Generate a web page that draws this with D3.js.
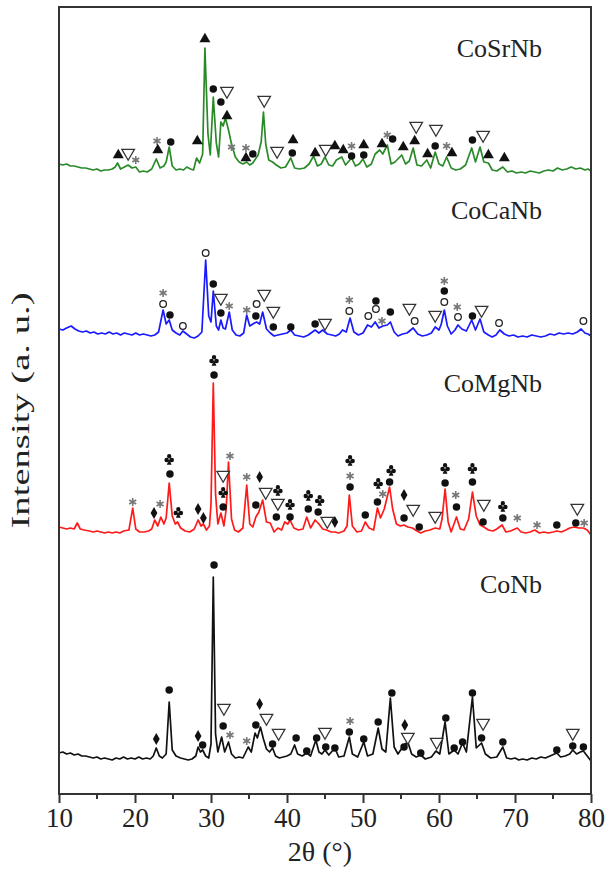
<!DOCTYPE html>
<html>
<head>
<meta charset="utf-8">
<script src="https://cdn.jsdelivr.net/npm/d3@7"></script>
<style>
  body { margin: 0; background: #fff; }
  svg text { font-family: "Liberation Serif", "Times New Roman", serif; fill: #222; }
</style>
</head>
<body>
<div id="chart"></div>
<script>

// stacked patterns: [2theta, intensity (a.u., already offset)]
const coNb = [[10,41],[10.5,42],[11,40],[11.5,41],[12,39],[12.5,40],[13,38],[13.5,38],[14,37],[14.5,36],[15,37],[15.5,35],[16,36],[16.5,35],[17,34],[17.5,36],[18,35],[18.5,37],[19,35],[19.5,36],[20,35],[20.5,37],[21,35],[21.5,36],[22,35],[22.4,38],[22.8,46],[23.2,38],[23.6,36],[24.1,40],[24.5,92],[24.9,44],[25.4,38],[26,36],[26.5,35],[27,34],[27.5,35],[28,38],[28.3,47],[28.6,42],[28.9,44],[29.3,38],[29.7,36],[30.0,50],[30.3,217],[30.6,60],[30.9,42],[31.4,57],[31.8,42],[32.3,52],[32.7,40],[33.2,36],[33.7,37],[34.2,36],[34.9,47],[35.3,42],[35.8,61],[36.1,56],[36.5,67],[36.9,55],[37.3,45],[37.7,42],[38.1,46],[38.5,38],[39,36],[39.5,37],[40,38],[40.5,40],[41,49],[41.4,40],[42,38],[42.6,41],[43.1,38],[43.8,54],[44.2,42],[44.6,40],[45,44],[45.5,39],[46.3,46],[46.8,37],[47.5,38],[48.2,57],[48.6,40],[49.3,37],[50.1,52],[50.6,38],[51.3,40],[52,66],[52.5,45],[53,42],[53.6,96],[54.1,47],[54.6,40],[55.4,49],[55.9,52],[56.4,40],[57,37],[57.6,39],[58.2,35],[59,37],[59.6,43],[60.1,40],[60.8,72],[61.3,40],[62,44],[62.5,40],[63.1,51],[63.6,42],[64.4,97],[64.9,46],[65.6,51],[66.1,40],[66.8,36],[67.6,37],[68.4,47],[68.9,36],[69.5,35],[70,36],[70.5,34],[71,35],[71.6,34],[72.2,36],[72.8,35],[73.4,37],[74,36],[74.6,38],[75.5,41],[76,37],[76.6,38],[77.2,40],[77.6,44],[78.1,40],[78.6,42],[79,43],[79.5,38],[80,33]];

const coMgNb = [[10,267],[10.5,266],[11,265],[11.5,266],[12,265],[12.4,271],[12.8,265],[13.3,264],[14,263],[14.5,262],[15,263],[15.5,262],[16,261],[16.5,262],[17,261],[17.5,262],[18,261],[18.5,263],[19.2,264],[19.7,286],[20.1,265],[20.6,262],[21.2,262],[21.8,263],[22.2,265],[22.6,274],[23,268],[23.4,277],[23.8,270],[24.1,276],[24.5,311],[24.9,278],[25.3,270],[25.6,272],[26,266],[26.6,263],[27.2,262],[27.8,265],[28.3,274],[28.7,268],[29,270],[29.4,264],[29.8,268],[30.0,290],[30.3,411],[30.6,300],[30.9,270],[31.3,281],[31.7,268],[32.0,285],[32.3,332],[32.7,275],[33.1,264],[33.6,262],[34.2,266],[34.7,309],[35.1,270],[35.5,267],[35.9,277],[36.3,282],[36.8,294],[37.3,272],[37.8,271],[38.3,262],[38.8,266],[39.3,264],[39.7,272],[40.1,270],[40.4,274],[40.9,266],[41.5,264],[42.1,265],[42.6,277],[43.1,266],[43.7,274],[44.2,270],[44.7,265],[45.2,264],[45.8,262],[46.3,262],[46.8,261],[47.5,263],[47.9,268],[48.2,299],[48.6,268],[49.2,262],[49.8,263],[50.3,272],[50.8,266],[51.4,264],[51.9,286],[52.3,276],[52.8,285],[53.5,307],[53.9,285],[54.4,270],[54.9,268],[55.4,269],[55.9,267],[56.5,266],[57.1,263],[57.6,261],[58.2,263],[58.8,264],[59.5,266],[60.1,265],[60.4,275],[60.8,305],[61.2,272],[61.6,262],[62.3,277],[62.8,265],[63.3,264],[63.9,275],[64.4,302],[64.9,278],[65.4,269],[65.9,267],[66.5,264],[67.1,263],[67.6,265],[68.3,269],[68.8,262],[69.4,263],[70.3,266],[70.8,262],[71.4,261],[72,262],[72.6,264],[73.2,261],[73.8,262],[74.4,261],[75,262],[75.5,263],[76.1,262],[76.7,264],[77.2,266],[77.8,267],[78.4,266],[79,266],[79.5,264],[80,259]];

const coCaNb = [[10,465],[10.5,464],[11,466],[11.6,468],[12.1,465],[12.6,463],[13.1,462],[13.6,463],[14.1,461],[14.6,462],[15.1,460],[15.6,461],[16.1,460],[16.6,462],[17.1,460],[17.6,461],[18.1,459],[18.6,461],[19.1,460],[19.6,459],[20.1,461],[20.6,459],[21.1,460],[21.6,459],[22.1,458],[22.6,459],[23.1,462],[23.7,484],[24.1,470],[24.5,474],[24.9,464],[25.4,461],[25.9,459],[26.3,463],[26.8,460],[27.3,457],[27.8,456],[28.3,458],[28.8,462],[29.3,534],[29.7,478],[30.0,472],[30.3,503],[30.7,468],[31.0,464],[31.3,474],[31.6,466],[31.9,465],[32.4,482],[32.8,464],[33.3,459],[33.8,458],[34.3,461],[34.7,479],[35.1,468],[35.5,470],[36.0,472],[36.4,470],[36.8,482],[37.3,465],[37.8,461],[38.3,458],[38.8,459],[39.4,460],[40.0,461],[40.5,464],[41.0,459],[41.6,458],[42.2,457],[42.8,459],[43.7,464],[44.2,461],[44.7,464],[45.3,460],[45.9,459],[46.4,458],[46.9,460],[47.3,464],[47.8,462],[48.3,476],[48.8,462],[49.4,459],[50.0,461],[50.6,469],[51.1,467],[51.6,472],[52.1,466],[52.6,468],[53.2,469],[53.6,472],[54.1,462],[54.6,458],[55.2,460],[55.8,461],[56.6,466],[57.2,460],[57.8,458],[58.4,459],[59.0,461],[59.5,467],[60.0,464],[60.3,470],[60.7,484],[61.1,468],[61.6,460],[62.1,464],[62.5,469],[63.0,465],[63.6,463],[64.3,474],[64.8,464],[65.4,475],[65.9,462],[66.5,459],[67.0,457],[67.5,459],[68.0,464],[68.6,460],[69.2,458],[69.8,459],[70.4,457],[71.0,458],[71.6,457],[72.2,459],[72.8,458],[73.4,457],[74.0,458],[74.6,460],[75.2,459],[75.8,461],[76.4,460],[77.0,461],[77.6,460],[78.2,462],[78.7,465],[79.2,461],[79.6,460],[80,458]];

const coSrNb = [[10,630],[10.5,629],[11,630],[11.5,628],[12,628],[12.5,627],[13,626],[13.5,626],[14,625],[14.5,624],[15,625],[15.5,623],[16,624],[16.5,624],[17,625],[17.4,627],[17.7,631],[18.1,625],[18.6,627],[19.1,629],[19.6,626],[20.1,627],[20.6,622],[21.1,623],[21.6,622],[22.2,625],[22.8,635],[23.3,626],[23.8,628],[24.1,632],[24.5,647],[24.9,628],[25.4,624],[25.9,625],[26.4,624],[26.8,627],[27.3,625],[27.7,624],[28.1,636],[28.5,631],[28.9,640],[29.2,746],[29.6,660],[29.9,639],[30.3,697],[30.7,651],[31.0,637],[31.3,672],[31.6,668],[31.9,676],[32.3,664],[32.7,650],[33.2,637],[33.7,632],[34.2,630],[34.7,632],[35.1,629],[35.5,631],[36.2,639],[36.6,652],[36.9,682],[37.2,650],[37.6,634],[38.1,632],[38.6,629],[39.2,626],[39.8,627],[40.5,636],[41.0,626],[41.6,625],[42.3,626],[42.9,630],[43.5,638],[44.0,628],[44.5,630],[45.0,637],[45.5,629],[46.0,628],[46.5,634],[47.2,637],[47.7,629],[48.5,636],[49.0,628],[49.5,630],[50.0,635],[50.5,627],[51.1,630],[51.6,640],[52.2,644],[52.6,640],[53.2,649],[53.7,630],[54.2,632],[55.1,639],[55.6,630],[56.1,633],[56.6,646],[57.1,629],[57.7,628],[58.4,634],[58.9,626],[59.5,642],[60.0,630],[60.5,628],[61.0,637],[61.6,626],[62.2,624],[62.8,625],[63.5,629],[64.3,646],[64.8,632],[65.4,647],[65.9,632],[66.5,631],[67.0,624],[67.6,623],[68.4,627],[69.0,622],[69.6,623],[70.2,621],[70.8,622],[71.4,621],[72.0,623],[72.6,622],[73.2,621],[73.8,623],[74.4,624],[75.0,623],[75.6,626],[76.2,624],[76.8,625],[77.4,627],[78.0,625],[78.6,626],[79.2,624],[79.6,625],[80,623]];

// phase markers: [2theta, intensity, type]
// dot = filled circle, ring = open circle, tri = open down triangle,
// up = filled triangle, dia = diamond, club, star = grey asterisk
const coNbMarks = [[22.8,55,"dia"],[24.5,104,"dot"],[28.3,58,"dia"],[28.9,49,"dot"],[30.4,229,"dot"],[31.7,86,"tri"],[31.6,68,"dot"],[32.5,59,"star"],[34.7,53,"star"],[35.9,69,"dot"],[36.4,90,"dia"],[37.3,76,"tri"],[38.9,61,"tri"],[38.1,50,"dot"],[41.2,56,"dot"],[42.6,43,"dot"],[43.9,56,"dot"],[45,62,"tri"],[45.1,47,"dot"],[46.3,46,"dot"],[48.2,62,"dot"],[48.3,73,"star"],[50.1,55,"dot"],[52,72,"dot"],[53.8,101,"dot"],[55.5,69,"dia"],[55.9,57,"tri"],[55.4,47,"dot"],[57.6,41,"dot"],[59.7,52,"tri"],[60.9,76,"dot"],[62,46,"dot"],[63.1,52,"dot"],[64.4,101,"dot"],[65.8,71,"tri"],[65.6,56,"dot"],[68.4,52,"dot"],[75.5,44,"dot"],[77.6,61,"tri"],[77.6,48,"dot"],[79,47,"dot"]];

const coMgNbMarks = [[19.7,292,"star"],[22.5,281,"dia"],[23.3,290,"star"],[24.5,335,"club"],[24.6,320,"dot"],[25.7,282,"club"],[28.3,285,"dia"],[29,276,"dia"],[30.4,434,"club"],[30.4,419,"dot"],[31.6,319,"tri"],[31.6,302,"club"],[31.6,287,"dot"],[32.5,338,"star"],[34.7,317,"star"],[36.4,317,"dia"],[35.9,289,"dot"],[37.2,302,"tri"],[38.8,304,"club"],[38.8,291,"tri"],[38.6,277,"dot"],[40.4,290,"club"],[40.4,277,"dot"],[42.8,299,"club"],[42.8,285,"dot"],[44.3,294,"club"],[44.1,282,"dot"],[45.3,273,"tri"],[46.3,272,"dia"],[48.3,334,"club"],[48.3,318,"star"],[48.3,307,"dot"],[50.3,279,"dot"],[52,311,"club"],[52.6,300,"star"],[51.9,292,"dot"],[53.7,324,"club"],[53.5,312,"dot"],[55.4,299,"dia"],[56.6,285,"tri"],[55.4,276,"dot"],[57.4,267,"dot"],[59.5,278,"tri"],[60.8,326,"club"],[60.8,311,"dot"],[62.2,299,"star"],[62.3,287,"dot"],[64.4,326,"club"],[64.4,312,"dot"],[65.9,290,"tri"],[65.8,272,"dot"],[68.4,288,"club"],[68.4,276,"dot"],[70.3,276,"star"],[72.9,269,"star"],[75.5,269,"dot"],[78.2,286,"tri"],[78,271,"dot"],[79.1,271,"star"]];

const coCaNbMarks = [[23.7,501,"star"],[23.7,490,"ring"],[24.6,479,"dot"],[26.3,468,"ring"],[29.3,541,"ring"],[30.3,510,"dot"],[31.3,496,"tri"],[31.3,481,"dot"],[32.4,488,"star"],[34.7,484,"star"],[36,490,"ring"],[37,500,"tri"],[35.9,478,"dot"],[38.2,483,"tri"],[38.2,467,"dot"],[40.5,467,"dot"],[43.7,470,"dot"],[45,471,"tri"],[48.2,494,"star"],[48.2,483,"ring"],[50.7,478,"ring"],[51.7,493,"dot"],[51.7,485,"ring"],[52.5,473,"star"],[53.6,482,"dot"],[56.1,486,"tri"],[56.8,473,"ring"],[59.5,479,"tri"],[60.7,513,"star"],[60.7,503,"dot"],[60.7,492,"ring"],[62.4,487,"star"],[62.5,477,"ring"],[64.4,478,"dot"],[65.6,484,"tri"],[67.9,471,"ring"],[79,473,"ring"]];

const coSrNbMarks = [[17.8,639,"up"],[19.1,641,"tri"],[20.1,634,"star"],[22.9,653,"star"],[23,644,"up"],[24.7,652,"dot"],[28.2,653,"up"],[29.2,755,"up"],[30.3,705,"dot"],[32.1,703,"tri"],[31.3,692,"dot"],[32.1,678,"up"],[32.7,647,"star"],[34.6,646,"star"],[34.6,636,"up"],[35.5,640,"dot"],[37,694,"tri"],[38.7,643,"tri"],[40.8,654,"up"],[40.7,641,"dot"],[43.7,641,"up"],[45.1,645,"tri"],[46.3,648,"up"],[47.4,644,"up"],[48.5,638,"dot"],[48.5,648,"star"],[50.1,639,"dot"],[50.1,649,"up"],[52.5,650,"up"],[53.2,659,"star"],[53.9,655,"dot"],[55.3,647,"up"],[56.8,653,"up"],[57,668,"tri"],[58.5,640,"up"],[59.6,665,"tri"],[59.5,648,"dot"],[61,648,"star"],[61.7,641,"up"],[64.4,654,"dot"],[65.8,659,"tri"],[66.5,639,"up"],[68.6,636,"up"]];

const sampleNames = ["CoNb", "CoMgNb", "CoCaNb", "CoSrNb"];
const sampleColors = ["#111111", "#ff1a1a", "#1a1aff", "#2a8a2a"];
const labelLevels = [201, 402, 575, 737];   // intensity where each name sits

const xTicks = [10, 20, 30, 40, 50, 60, 70, 80];
const xMinorTicks = [15, 25, 35, 45, 55, 65, 75];

const serif = "'Liberation Serif', 'Times New Roman', serif";

const margin = {top: 7, right: 14, bottom: 76, left: 59},
      width = 605 - margin.left - margin.right,
      height = 870 - margin.top - margin.bottom;

const svg = d3.select("#chart")
  .append("svg")
  .attr("width", 605)
  .attr("height", 870)
  .append("g")
  .attr("transform", "translate(" + margin.left + "," + margin.top + ")");

const x = d3.scaleLinear().domain([10, 80]).range([0, width]);
const y = d3.scaleLinear().domain([0, height]).range([height, 0]);

const line = d3.line()
  .x(d => x(d[0]))
  .y(d => y(d[1]));

const patterns = [coNb, coMgNb, coCaNb, coSrNb];
const marks = [coNbMarks, coMgNbMarks, coCaNbMarks, coSrNbMarks];

// lines
patterns.forEach(function(p, i) {
  svg.append("path")
    .datum(p)
    .attr("fill", "none")
    .attr("stroke", sampleColors[i])
    .attr("stroke-width", 1.7)
    .attr("stroke-linejoin", "round")
    .attr("d", line);
});

// club shape (three lobes + stem) as a custom d3 symbol
const symbolClub = {
  draw: function(context, size) {
    const r = Math.sqrt(size) * 0.26;
    [[0, -r * 1.25], [-r * 1.2, r * 0.45], [r * 1.2, r * 0.45]].forEach(function(c) {
      context.moveTo(c[0] + r, c[1]);
      context.arc(c[0], c[1], r, 0, 2 * Math.PI);
    });
    context.moveTo(0, 0);
    context.lineTo(-r * 1.1, r * 2.6);
    context.lineTo(r * 1.1, r * 2.6);
    context.closePath();
  }
};

// markers
const symDot = d3.symbol().type(d3.symbolCircle).size(44)();
const symUp = d3.symbol().type(d3.symbolTriangle).size(52)();
const symDia = d3.symbol().type(d3.symbolDiamond).size(40)();
const symStar = d3.symbol().type(d3.symbolAsterisk).size(46)();
const symClub = d3.symbol().type(symbolClub).size(70)();

marks.forEach(function(m) {
  const g = svg.append("g");
  m.forEach(function(d) {
    const cx = x(d[0]), cy = y(d[1]);
    const t = "translate(" + cx + "," + cy + ")";
    if (d[2] === "dot") {
      g.append("path").attr("d", symDot).attr("transform", t).attr("fill", "#111");
    } else if (d[2] === "ring") {
      g.append("circle").attr("cx", cx).attr("cy", cy).attr("r", 3.3)
        .attr("fill", "#fff").attr("stroke", "#222").attr("stroke-width", 1.3);
    } else if (d[2] === "up") {
      g.append("path").attr("d", symUp).attr("transform", t).attr("fill", "#111");
    } else if (d[2] === "tri") {
      g.append("path").attr("d", symUp).attr("transform", t + " scale(1.15,-1.15)")
        .attr("fill", "#fff").attr("stroke", "#333").attr("stroke-width", 1.1);
    } else if (d[2] === "dia") {
      g.append("path").attr("d", symDia).attr("transform", t).attr("fill", "#111");
    } else if (d[2] === "star") {
      g.append("path").attr("d", symStar).attr("transform", t)
        .attr("fill", "none").attr("stroke", "#777").attr("stroke-width", 1.6);
    } else if (d[2] === "club") {
      g.append("path").attr("d", symClub).attr("transform", t).attr("fill", "#111");
    }
  });
});

// sample names
sampleNames.forEach(function(n, i) {
  svg.append("text")
    .attr("x", 542 - margin.left)
    .attr("y", y(labelLevels[i]))
    .attr("text-anchor", "end")
    .style("font-family", serif)
    .style("font-size", "26px")
    .text(n);
});

// frame
svg.append("rect")
  .attr("width", width).attr("height", height)
  .attr("fill", "none").attr("stroke", "#333").attr("stroke-width", 2);

// x axis
const xAxis = svg.append("g")
  .attr("transform", "translate(0," + height + ")")
  .call(d3.axisBottom(x).tickValues(xTicks).tickSize(9).tickPadding(5).tickFormat(d3.format("d")));
xAxis.attr("font-family", null);
xAxis.select(".domain").remove();
xAxis.selectAll("line").attr("stroke", "#333").attr("stroke-width", 2);
xAxis.selectAll("text").style("font-family", serif).style("font-size", "27px").attr("fill", "#222");

svg.append("g")
  .attr("transform", "translate(0," + height + ")")
  .selectAll("line")
  .data(xMinorTicks)
  .enter()
  .append("line")
    .attr("x1", d => x(d)).attr("x2", d => x(d))
    .attr("y1", 0).attr("y2", 5)
    .attr("stroke", "#333").attr("stroke-width", 2);

// axis titles
svg.append("text")
  .attr("x", width / 2 - 5)
  .attr("y", height + 67)
  .attr("text-anchor", "middle")
  .style("font-family", serif)
  .style("font-size", "28px")
  .text("2\u03B8 (\u00B0)");

svg.append("text")
  .attr("transform", "translate(" + (-30) + "," + (height / 2 + 10) + ") rotate(-90)")
  .attr("text-anchor", "middle")
  .attr("textLength", 236)
  .attr("lengthAdjust", "spacingAndGlyphs")
  .style("font-family", serif)
  .style("font-size", "25px")
  .text("Intensity (a. u.)");

</script>
</body>
</html>
